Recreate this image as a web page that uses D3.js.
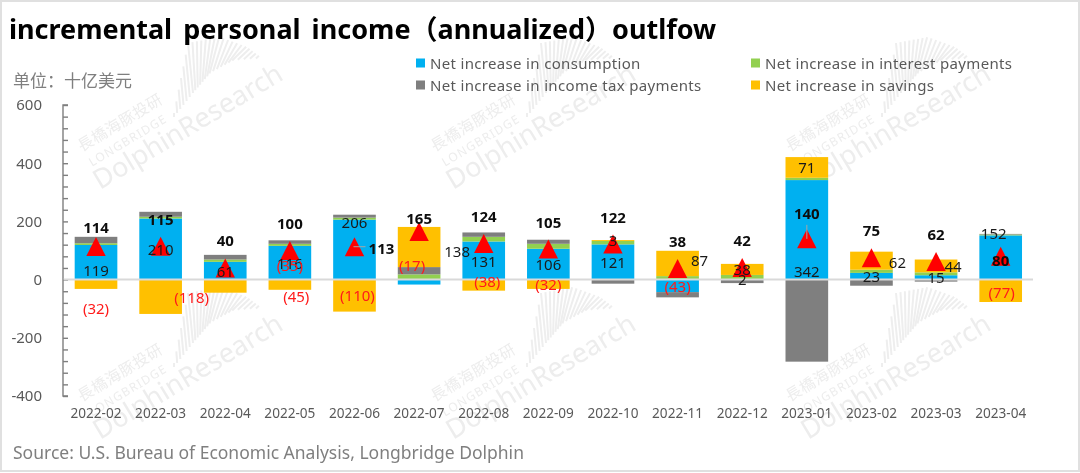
<!DOCTYPE html>
<html>
<head>
<meta charset="utf-8">
<script src="https://cdn.jsdelivr.net/npm/d3@7"></script>
<style>
  html, body { margin: 0; padding: 0; background: #fff; }
  svg { display: block; font-family: "Noto Sans", "Noto Sans CJK SC", sans-serif; filter: blur(0.35px); }
</style>
</head>
<body>
<svg id="chart" width="1080" height="473"></svg>
<script>
const months = ['2022-02','2022-03','2022-04','2022-05','2022-06','2022-07','2022-08','2022-09','2022-10','2022-11','2022-12','2023-01','2023-02','2023-03','2023-04']
const consumption = [119, 210, 61, 116, 206, -17, 131, 106, 121, -43, 2, 342, 23, 15, 152]
const interest = [6, 6, 8, 7, 7, 18, 16, 17, 12, 12, 14, 8, 11, 10, 3]
const incomeTax = [22, 17, 16, 12, 10, 25, 15, 14, -14, -18, -12, -282, -21, -7, 2]
const savings = [-32, -118, -45, -35, -110, 138, -38, -32, 3, 87, 38, 71, 62, 44, -77]
const totals = [114, 115, 40, 100, 113, 165, 124, 105, 122, 38, 42, 140, 75, 62, 80]
const yLabels = [-400, -200, 0, 200, 400, 600]
const yMinorTicks = d3.range(-400, 601, 40)

// label offsets, the original chart has hand dragged labels
const consumptionNudge = {0:[0,8], 4:[0,-28], 5:[-7,-17.5], 11:[0,41.5], 14:[-7,-24]}
const savingsNudge = {0:[0,24], 1:[31,0], 2:[71,9.5], 3:[0,-20], 4:[3,-1], 5:[38,3.5], 6:[3.5,-4], 9:[22,-3], 12:[26,1], 13:[17,0], 14:[1,1]}
const totalNudge = {0:[0,-19], 4:[27,1], 5:[0,-14], 11:[0,-26], 14:[0,4]}

const seriesNames = ['Net increase in consumption','Net increase in interest payments','Net increase in income tax payments','Net increase in savings']
const seriesKeys = ['consumption','interest','incomeTax','savings']
const colors = {consumption:'#00B0F0', interest:'#92D050', incomeTax:'#7F7F7F', savings:'#FFC000'}

const svg = d3.select('#chart')

// outer frame
svg.append('rect').attr('x',1).attr('y',1).attr('width',1078).attr('height',470)
    .attr('fill','#fff').attr('stroke','#e0e0e0').attr('stroke-width',2)

// watermark
function drawWatermark(ox, oy){
    let g = svg.append('g').attr('transform',`translate(${ox},${oy})`).attr('fill','#ededed')
    let t = g.append('g').attr('transform','rotate(-31)')
    t.append('text').attr('x',0).attr('y',0).attr('font-size',27).text('DolphinResearch')
    t.append('text').attr('x',5).attr('y',-24).attr('font-size',12).attr('letter-spacing',1.2).text('LONGBRIDGE')
    t.append('text').attr('x',4).attr('y',-42).attr('font-size',15.5).attr('letter-spacing',0.5).text('長橋海豚投研')
    // barcode swoosh
    let stops = [0,.25,.55,.8,1]
    let lowX = d3.scaleLinear().domain(stops).range([74,93,110,133,162])
    let lowY = d3.scaleLinear().domain(stops).range([-73,-97,-117,-130,-132])
    let highX = d3.scaleLinear().domain(stops).range([74,88,120,147,162])
    let highY = d3.scaleLinear().domain(stops).range([-77,-147,-153,-143,-132])
    d3.range(0,1.01,1/24).forEach(k => {
        g.append('line').attr('x1',lowX(k)).attr('y1',lowY(k)).attr('x2',highX(k)).attr('y2',highY(k))
            .attr('stroke','#eeeeee').attr('stroke-width',2)
    })
}
[[100,190],[453,190],[808,190],[100,440],[453,440],[808,440]].forEach(p => drawWatermark(p[0],p[1]))

// title, unit, source
svg.append('text').attr('x',9).attr('y',39).attr('font-size',27).attr('font-weight',700).attr('fill','#000')
    .attr('word-spacing',4).text('incremental personal income（annualized）outlfow')
svg.append('text').attr('x',13).attr('y',87).attr('font-size',17).attr('fill','#7f7f7f').text('单位：十亿美元')
svg.append('text').attr('x',13).attr('y',459).attr('font-size',17.5).attr('fill','#7f7f7f')
    .text('Source: U.S. Bureau of Economic Analysis, Longbridge Dolphin')

// legend
const legendSpots = [[416,63],[751,63],[416,85],[751,85]]
seriesNames.forEach((name,i) => {
    let key = seriesKeys[i]
    svg.append('rect').attr('x',legendSpots[i][0]).attr('y',legendSpots[i][1]-4.5).attr('width',9).attr('height',9).attr('fill',colors[key])
    svg.append('text').attr('x',legendSpots[i][0]+14).attr('y',legendSpots[i][1]+5.5)
        .attr('font-size',15).attr('letter-spacing',0.33).attr('fill','#595959').text(name)
})

// scales
const x = d3.scaleBand().domain(months).range([63.7,1033]).paddingInner(.34).paddingOuter(.17)
const y = d3.scaleLinear().domain([-400,600]).range([396,105])

// axes
let leftAxis = svg.append('g').attr('transform','translate(63,0)')
    .call(d3.axisRight(y).tickValues(yMinorTicks).tickSize(5).tickFormat(''))
leftAxis.selectAll('path,line').attr('stroke','#7f7f7f').attr('stroke-width',1.4)
leftAxis.select('path').attr('d',`M5,${y(600)}H0V${y(-400)}H5`)

let yLabelAxis = svg.append('g').attr('transform','translate(42,0)')
    .call(d3.axisLeft(y).tickValues(yLabels).tickSize(0).tickPadding(0).tickFormat(String))
yLabelAxis.select('.domain').remove()
yLabelAxis.selectAll('text').attr('font-size',15).attr('font-family','"Noto Sans"').attr('fill','#595959')

let monthAxis = svg.append('g').attr('transform','translate(0,396)')
    .call(d3.axisBottom(x).tickSize(0).tickPadding(12))
monthAxis.select('.domain').remove()
monthAxis.selectAll('text').attr('font-size',13.6).attr('font-family','"Noto Sans"').attr('fill','#595959')

// stacked bars
const rows = months.map((m,i) => ({month:m, consumption:consumption[i], interest:interest[i], incomeTax:incomeTax[i], savings:savings[i]}))
const stacked = d3.stack().keys(seriesKeys).offset(d3.stackOffsetDiverging)(rows)

svg.append('g').selectAll('g').data(stacked).enter().append('g')
    .attr('fill',d => colors[d.key])
    .selectAll('rect').data(d => d).enter().append('rect')
    .attr('x',d => x(d.data.month))
    .attr('y',d => y(Math.max(d[0],d[1])))
    .attr('width',x.bandwidth())
    .attr('height',d => Math.abs(y(d[0])-y(d[1])))

// zero line
svg.append('line').attr('x1',x.range()[0]).attr('x2',x.range()[1]).attr('y1',y(0)).attr('y2',y(0))
    .attr('stroke','#d9d9d9').attr('stroke-width',2)

// total markers
svg.append('g').selectAll('path').data(totals).enter().append('path')
    .attr('d','M0,-9.5L9.7,9.5L-9.7,9.5Z')
    .attr('fill','#ff0000')
    .attr('transform',(d,i) => `translate(${x(months[i])+x.bandwidth()/2},${y(d)})`)

// leader lines for two dragged total labels
svg.append('line').attr('x1',x('2022-06')+x.bandwidth()/2-1).attr('x2',x('2022-06')+x.bandwidth()/2+11)
    .attr('y1',y(113)).attr('y2',y(113)).attr('stroke','#a6a6a6').attr('stroke-width',1)
svg.append('line').attr('x1',x('2023-01')+x.bandwidth()/2).attr('x2',x('2023-01')+x.bandwidth()/2)
    .attr('y1',y(140)-14).attr('y2',y(140)).attr('stroke','#a6a6a6').attr('stroke-width',1)

// labels
function labelText(v){ return v < 0 ? `(${-v})` : `${v}` }

function drawSegmentLabels(key, values, nudge){
    let layer = stacked.find(s => s.key === key)
    svg.append('g').selectAll('text').data(values).enter().append('text')
        .attr('x',(d,i) => x(months[i])+x.bandwidth()/2+(nudge[i] ? nudge[i][0] : 0))
        .attr('y',(d,i) => y((layer[i][0]+layer[i][1])/2)+(nudge[i] ? nudge[i][1] : 0))
        .attr('text-anchor','middle').attr('dominant-baseline','central')
        .attr('font-size',15)
        .attr('fill',d => d < 0 ? '#ff1a1a' : '#1a1a1a')
        .text(labelText)
}
drawSegmentLabels('consumption',consumption,consumptionNudge)
drawSegmentLabels('savings',savings,savingsNudge)

svg.append('g').selectAll('text').data(totals).enter().append('text')
    .attr('x',(d,i) => x(months[i])+x.bandwidth()/2+(totalNudge[i] ? totalNudge[i][0] : 0))
    .attr('y',(d,i) => y(d)+(totalNudge[i] ? totalNudge[i][1] : -27.5))
    .attr('text-anchor','middle').attr('dominant-baseline','central')
    .attr('font-size',15).attr('font-weight',700).attr('fill','#0d0d0d')
    .text(d => d)
</script>
</body>
</html>
